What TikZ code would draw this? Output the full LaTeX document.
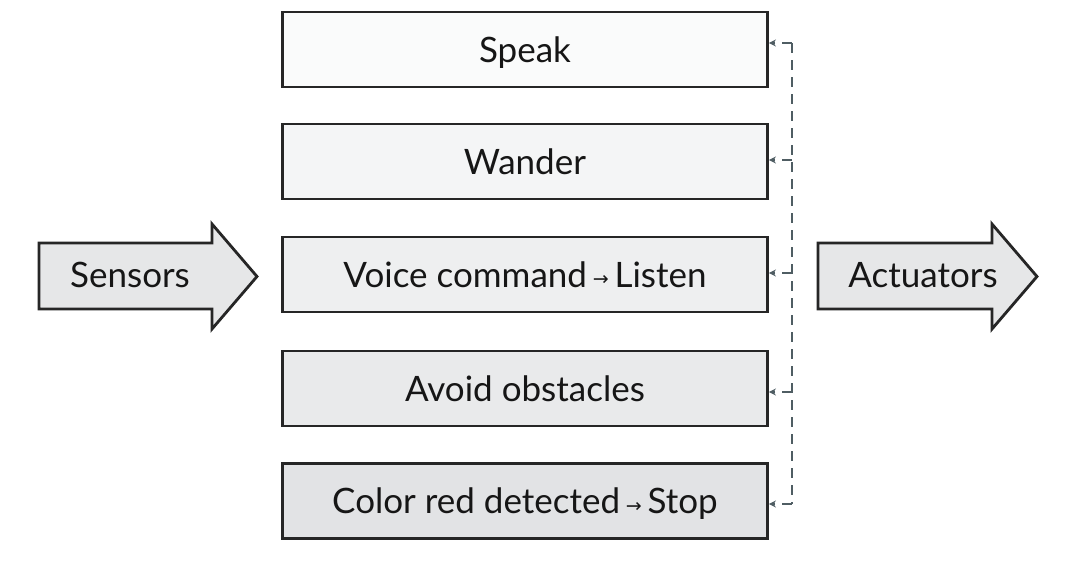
\documentclass[tikz,border=0pt]{standalone}
\usepackage{fontspec}
\setmainfont{Lato}
\newfontfamily\arrowfont{DejaVu Sans}
\usetikzlibrary{arrows.meta}

\definecolor{edgecol}{HTML}{262626}
\definecolor{textcol}{HTML}{161616}
\definecolor{busline}{HTML}{4F5D63}
\definecolor{arrowfill}{HTML}{E6E7E8}
\definecolor{fillA}{HTML}{FAFBFB}
\definecolor{fillB}{HTML}{F4F5F6}
\definecolor{fillC}{HTML}{EEEFF0}
\definecolor{fillD}{HTML}{E9EAEB}
\definecolor{fillE}{HTML}{E2E3E5}

\newcommand{\smallarrow}{\,{\arrowfont\fontsize{19}{22}\selectfont\raisebox{1.5pt}{→}}\,}

\begin{document}
\begin{tikzpicture}[x=1pt,y=-1pt,
  label font/.style={font=\fontsize{35}{40}\selectfont, text=textcol,
    text height=28pt, text depth=3pt},
  layerbox/.style={draw=edgecol, line width=2.8pt, minimum width=485pt,
    minimum height=75pt, inner sep=0pt, label font},
  bigarrow/.style={draw=edgecol, fill=arrowfill, line width=2.8pt, line join=miter},
  bus/.style={draw=busline, line width=2.2pt, dash pattern=on 10pt off 7pt},
  feed/.style={bus, -{Stealth[length=7pt,width=7pt]}},
]
\useasboundingbox (0,0) rectangle (1082,560);

% behaviour layers, top to bottom
\node[layerbox, fill=fillA] (speak)  at (525,49.5)  {Speak};
\node[layerbox, fill=fillB] (wander) at (525,161.5) {Wander};
\node[layerbox, fill=fillC] (listen) at (525,274.5) {Voice command\smallarrow Listen};
\node[layerbox, fill=fillD] (avoid)  at (525,388.5) {Avoid obstacles};
\node[layerbox, fill=fillE] (stop)   at (525,501)   {Color red detected\smallarrow Stop};

% input and output block arrows
\draw[bigarrow] (39,243) -- (212,243) -- (212,224) -- (257,276.5)
  -- (212,329) -- (212,309) -- (39,309) -- cycle;
\node[label font, inner sep=0pt] (sensors) at (130,274.5) {Sensors};
\draw[bigarrow] (818,243) -- (992,243) -- (992,224) -- (1037,276.5)
  -- (992,329) -- (992,309) -- (818,309) -- cycle;
\node[label font, inner sep=0pt] (actuators) at (923,274.5) {Actuators};

% dashed feedback bus into every layer
\coordinate (b1) at (792,43);
\coordinate (b2) at (792,160);
\coordinate (b3) at (792,273);
\coordinate (b4) at (792,392);
\coordinate (b5) at (792,504);
\draw[bus] (b1) -- (b5);
\draw[feed] (b1) -- (speak.east |- b1);
\draw[feed] (b2) -- (wander.east |- b2);
\draw[feed] (b3) -- (listen.east |- b3);
\draw[feed] (b4) -- (avoid.east |- b4);
\draw[feed] (b5) -- (stop.east |- b5);
\end{tikzpicture}
\end{document}
